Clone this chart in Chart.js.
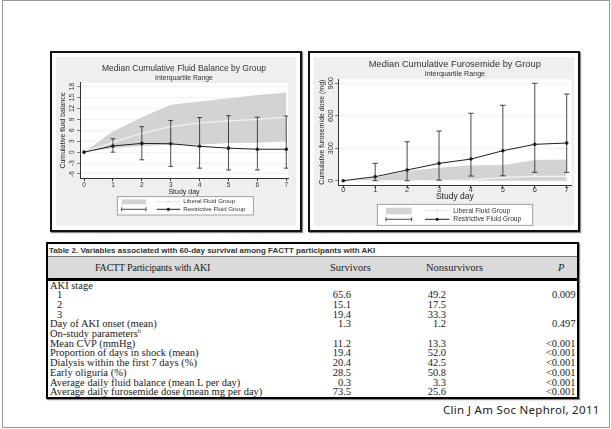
<!DOCTYPE html>
<html lang="en">
<head>
    <meta charset="UTF-8">
    <title>FACTT AKI - fluid balance and furosemide</title>
    <script src="https://cdn.jsdelivr.net/npm/chart.js"></script>
    <style>
        body {
            margin: 0;
            width: 611px;
            height: 429px;
            position: relative;
            overflow: hidden;
            background: #fff;
            font-family: "Liberation Sans", Arial, sans-serif;
        }
        .frame {
            position: absolute; left: 2px; top: 0; width: 606px; height: 426px;
            border: 1px solid #9a9a9a;
        }
        .chart-box {
            position: absolute;
            border: 2px solid #111;
            box-shadow: 1px 1px 1px #888;
            background: #fff;
            box-sizing: border-box;
        }
        #box1 { left: 50px; top: 51px; width: 252px; height: 181px; }
        #box2 { left: 308px; top: 51px; width: 272px; height: 181px; }
        .chart-box div { position: relative; width: 100%; height: 100%; }

        #tbl {
            position: absolute; left: 46px; top: 242px; width: 533px; height: 157px;
            border: 2.5px solid #000; box-sizing: border-box;
            box-shadow: 1px 1px 1px #888;
            font-family: "Liberation Serif", "Times New Roman", serif;
            color: #222;
        }
        .cap {
            position: absolute; left: 1px; top: 1px;
            font: bold 8px "Liberation Sans", Arial, sans-serif; line-height: 11px;
            color: #333;
        }
        .head {
            position: absolute; left: 0; right: 0; top: 11.5px; height: 22px;
            background: #dadada; border-top: 1px solid #777;
        }
        .head span, .row span { position: absolute; white-space: nowrap; font-size: 10.5px; }
        .head span { top: 0; line-height: 22px; }
        .rule { position: absolute; left: 0; right: 0; top: 34px; height: 2.5px; background: #000; }
        .row { position: absolute; left: 0; right: 0; height: 9.7px; }
        .row span { line-height: 9.7px; top: 0; }
        .r { text-align: right; }
        .cite {
            position: absolute; left: 443px; top: 403px;
            font: 11.5px "Noto Sans", "Open Sans", sans-serif; letter-spacing: 0.3px;
            line-height: 14px; color: #222;
        }
    </style>
</head>
<body>
    <div class="frame"></div>
    <div class="chart-box" id="box1"><div><canvas id="fluidChart"></canvas></div></div>
    <div class="chart-box" id="box2"><div><canvas id="furoChart"></canvas></div></div>

    <div id="tbl">
        <div class="cap">Table 2. Variables associated with 60-day survival among FACTT participants with AKI</div>
        <div class="head">
            <span style="left:47px; font-size:10px; letter-spacing:-0.2px">FACTT Participants with AKI</span>
            <span style="left:282px">Survivors</span>
            <span style="left:378px">Nonsurvivors</span>
            <span style="left:510px; font-style:italic">P</span>
        </div>
        <div class="rule"></div>
        <div id="tbody"></div>
    </div>
    <div class="cite">Clin J Am Soc Nephrol, 2011</div>

<script>
    // study days and axis ticks
    const days = [0, 1, 2, 3, 4, 5, 6, 7];
    const fluidTicks = [-6, -3, 0, 3, 6, 9, 12, 15, 18];
    const furoTicks = [0, 300, 600, 900];
    const legendLabels = ['Liberal Fluid Group', 'Restrictive Fluid Group'];

    // cumulative fluid balance (L)
    const libFluidUpper = [0, 5.7, 9.6, 13.0, 13.9, 14.8, 15.7, 16.4];
    const libFluidLower = [0, 1.1, 1.7, 2.0, 2.0, 2.5, 2.6, 2.9];
    const libFluidMedian = [0, 2.7, 5.2, 7.0, 8.0, 8.6, 9.0, 9.6];
    const resFluidMedian = [0, 1.7, 2.4, 2.3, 1.6, 1.1, 0.8, 0.8];
    const resFluidUpper = [null, 3.7, 7.0, 8.7, 9.5, 10.0, 9.6, 9.9];
    const resFluidLower = [null, 0, -2.1, -3.9, -4.4, -4.9, -4.9, -4.4];

    // cumulative furosemide dose (mg), right panel
    const libFuroUpper = [0, 28, 89, 120, 142, 142, 191, 197];
    const libFuroLower = [0, 0, 0, 0, 0, 0, 0, 0];
    const libFuroMedian = [0, 0, 0, 2, 5, 30, 40, 40];
    const resFuroMedian = [0, 37, 99, 160, 200, 277, 336, 348];
    const resFuroUpper = [null, 160, 360, 459, 623, 697, 900, 801];
    const resFuroLower = [null, 0, 0, 5, 43, 45, 77, 77];

    // table 2 rows: label, survivors, nonsurvivors, P, indent
    const tableRows = [
        ['AKI stage', '', '', '', 0],
        ['1', '65.6', '49.2', '0.009', 1],
        ['2', '15.1', '17.5', '', 1],
        ['3', '19.4', '33.3', '', 1],
        ['Day of AKI onset (mean)', '1.3', '1.2', '0.497', 0],
        ['On-study parameters<sup style="font-size:6px;line-height:0">b</sup>', '', '', '', 0],
        ['Mean CVP (mmHg)', '11.2', '13.3', '<0.001', 0],
        ['Proportion of days in shock (mean)', '19.4', '52.0', '<0.001', 0],
        ['Dialysis within the first 7 days (%)', '20.4', '42.5', '<0.001', 0],
        ['Early oliguria (%)', '28.5', '50.8', '<0.001', 0],
        ['Average daily fluid balance (mean L per day)', '0.3', '3.3', '<0.001', 0],
        ['Average daily furosemide dose (mean mg per day)', '73.5', '25.6', '<0.001', 0]
    ];

    const tbody = document.getElementById('tbody');
    tableRows.forEach((r, i) => {
        const esc = s => s.replace('<0', '&lt;0');
        tbody.innerHTML += `<div class="row" style="top:${36.5 + i * 9.7}px">
            <span style="left:${r[4] ? 9 : 2}px">${r[0]}</span>
            <span class="r" style="right:226px">${r[1]}</span>
            <span class="r" style="right:131px">${r[2]}</span>
            <span class="r" style="right:1.5px">${esc(r[3])}</span></div>`;
    });

    Chart.defaults.font.family = '"Liberation Sans", Arial, sans-serif';
    Chart.defaults.color = '#333';

    const BAND = '#d3d3d3';
    const INK = '#1e1e1e';

    // stata style: white margin, light gray graph region, white plot region
    const stataBackground = {
        id: 'stataBackground',
        beforeDraw(chart) {
            const {ctx, chartArea: a, width, height} = chart;
            ctx.save();
            ctx.fillStyle = '#fff';
            ctx.fillRect(0, 0, width, height);
            ctx.fillStyle = '#efefef';
            ctx.fillRect(4, 4, width - 8, height - 8);
            ctx.fillStyle = '#fff';
            ctx.fillRect(a.left, a.top, a.right - a.left, a.bottom - a.top);
            ctx.restore();
        }
    };

    // two-row legend box like the original graph
    const stataLegend = {
        id: 'stataLegend',
        afterDraw(chart, args, o) {
            const ctx = chart.ctx;
            const [bx, by, bw, bh] = o.box;
            const [sx, sy, sw, sh] = o.swatch;
            ctx.save();
            ctx.fillStyle = '#fff';
            ctx.fillRect(bx, by, bw, bh);
            ctx.strokeStyle = '#8a8a8a';
            ctx.lineWidth = 0.8;
            ctx.strokeRect(bx, by, bw, bh);

            ctx.fillStyle = BAND;
            ctx.fillRect(sx, sy, sw, sh);

            // error bar symbol
            const y2 = o.rows[1];
            ctx.strokeStyle = INK;
            ctx.lineWidth = 0.8;
            ctx.beginPath();
            ctx.moveTo(sx, y2); ctx.lineTo(sx + sw, y2);
            ctx.moveTo(sx, y2 - 2); ctx.lineTo(sx, y2 + 2);
            ctx.moveTo(sx + sw, y2 - 2); ctx.lineTo(sx + sw, y2 + 2);
            ctx.stroke();

            const [lx1, lx2] = o.line;
            const styles = [['#e6e6e6', '#e6e6e6'], [INK, INK]];
            o.rows.forEach((y, i) => {
                ctx.strokeStyle = styles[i][0];
                ctx.lineWidth = 1;
                ctx.beginPath();
                ctx.moveTo(lx1, y); ctx.lineTo(lx2, y);
                ctx.stroke();
                ctx.fillStyle = styles[i][1];
                ctx.beginPath();
                ctx.arc((lx1 + lx2) / 2, y, 1.6, 0, Math.PI * 2);
                ctx.fill();
                ctx.fillStyle = '#333';
                ctx.font = o.font + 'px "Liberation Sans", Arial, sans-serif';
                ctx.textBaseline = 'middle';
                ctx.fillText(legendLabels[i], o.textX, y);
            });
            ctx.restore();
        }
    };

    const pts = ys => days.map((d, i) => ({x: d, y: ys[i]}));

    // whiskers as one broken line: low, high, gap for every day
    function whiskers(lo, hi) {
        const out = [];
        days.forEach((d, i) => {
            if (lo[i] === null) return;
            out.push({x: d, y: lo[i]}, {x: d, y: hi[i]}, {x: d, y: null});
        });
        return out;
    }

    function makeChart(id, s) {
        return new Chart(document.getElementById(id), {
            type: 'line',
            data: {
                datasets: [
                    {data: pts(s.libUpper), borderWidth: 0, pointRadius: 0, fill: '+1', backgroundColor: BAND, order: 10},
                    {data: pts(s.libLower), borderWidth: 0, pointRadius: 0, fill: false, order: 10},
                    {data: pts(s.libMedian), borderColor: '#f4f4f4', borderWidth: 1.2, pointRadius: 1.3,
                     pointBackgroundColor: '#f6f6f6', pointBorderWidth: 0, order: 5},
                    {data: whiskers(s.resLower, s.resUpper), borderColor: INK, borderWidth: 0.8, spanGaps: false,
                     pointStyle: 'line', pointRadius: s.cap, pointBorderColor: INK, pointBorderWidth: 0.8, order: 2},
                    {data: pts(s.resMedian), borderColor: INK, borderWidth: 1, pointRadius: 1.8,
                     pointBackgroundColor: INK, pointBorderWidth: 0, order: 1}
                ]
            },
            options: {
                responsive: true,
                maintainAspectRatio: false,
                animation: false,
                events: [],
                layout: {padding: s.padding},
                scales: {
                    x: {
                        type: 'linear', min: s.xMin, max: s.xMax, offset: false,
                        afterBuildTicks: sc => { sc.ticks = days.map(v => ({value: v})); },
                        afterFit: sc => { sc.height = s.xHeight; },
                        ticks: {font: {size: s.tickFont, lineHeight: 1}, padding: s.xPad, color: '#333'},
                        grid: {drawOnChartArea: false, offset: false, tickLength: 3, tickColor: '#333'},
                        border: {color: '#333', width: 1},
                        title: {display: true, text: 'Study day', color: '#222',
                                font: {size: s.xTitleFont, lineHeight: 1}, padding: {top: 0, bottom: 0}}
                    },
                    y: {
                        min: s.yMin, max: s.yMax,
                        afterBuildTicks: sc => { sc.ticks = s.yTicks.map(v => ({value: v})); },
                        afterFit: sc => { sc.width = 28; },
                        ticks: {font: {size: s.tickFont, lineHeight: 1}, minRotation: 90, maxRotation: 90,
                                crossAlign: 'center', padding: s.yPad, color: '#333'},
                        grid: {color: '#ebebeb', lineWidth: 0.6, tickLength: 3, tickColor: '#333'},
                        border: {color: '#333', width: 1},
                        title: {display: true, text: s.yTitle, color: '#222',
                                font: {size: 7, lineHeight: 1}, padding: {top: s.yTitlePad, bottom: 0}}
                    }
                },
                plugins: {
                    legend: {display: false},
                    tooltip: {enabled: false},
                    title: {display: true, fullSize: false, text: s.title, color: '#333',
                            font: {size: s.titleFont, weight: 'normal'}, padding: {top: s.titleTop, bottom: 0}},
                    subtitle: {display: true, fullSize: false, text: 'Interquartile Range', color: '#333',
                               font: {size: s.subFont}, padding: {top: 0, bottom: s.subBottom}},
                    stataLegend: s.legend
                }
            },
            plugins: [stataBackground, stataLegend]
        });
    }

    makeChart('fluidChart', {
        libUpper: libFluidUpper, libLower: libFluidLower, libMedian: libFluidMedian,
        resMedian: resFluidMedian, resUpper: resFluidUpper, resLower: resFluidLower,
        title: 'Median Cumulative Fluid Balance by Group', titleFont: 8.5, titleTop: 10.9,
        subFont: 6.8, subBottom: 0.7,
        yTitle: 'Cumulative fluid balance', yTitlePad: 7.8, yTicks: fluidTicks,
        xMin: -0.14, xMax: 7.06, yMin: -7.1, yMax: 19.0,
        tickFont: 6.5, xPad: 1.1, yPad: 1.1, xTitleFont: 7, xHeight: 18, cap: 2.4,
        padding: {top: 0, left: 0, right: 12, bottom: 34},
        legend: {box: [65.3, 143.7, 136, 18.3], swatch: [69.7, 146.3, 24.3, 5], rows: [148.7, 156.3],
                 line: [104.7, 128], textX: 131.3, font: 6.1}
    });

    makeChart('furoChart', {
        libUpper: libFuroUpper, libLower: libFuroLower, libMedian: libFuroMedian,
        resMedian: resFuroMedian, resUpper: resFuroUpper, resLower: resFuroLower,
        title: 'Median Cumulative Furosemide by Group', titleFont: 9.3, titleTop: 5.4,
        subFont: 7.1, subBottom: 1.2,
        yTitle: 'Cumulative furosemide dose (mg)', yTitlePad: 8.2, yTicks: furoTicks,
        xMin: -0.166, xMax: 7.157, yMin: -39.7, yMax: 937,
        tickFont: 7.5, xPad: -2, yPad: -1.9, xTitleFont: 8.5, xHeight: 16, cap: 2.8,
        padding: {top: 0, left: 0, right: 6.3, bottom: 29},
        legend: {box: [67.3, 151.3, 155.4, 21], swatch: [76, 154.7, 25.7, 6.6], rows: [157.7, 166.3],
                 line: [115, 139.3], textX: 143.3, font: 6.7}
    });
</script>
</body>
</html>
